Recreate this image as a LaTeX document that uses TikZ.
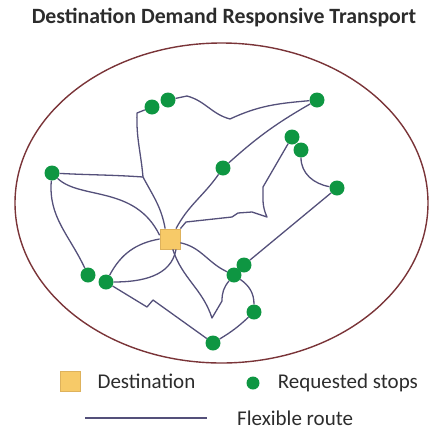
\documentclass[tikz,border=0pt]{standalone}
\usepackage{fontspec}
\setmainfont{Carlito}
\usepackage{tikz}
\usetikzlibrary{calc,positioning}
\definecolor{stopgreen}{RGB}{14,150,66}
\definecolor{routeblue}{RGB}{84,80,122}
\definecolor{rimred}{RGB}{122,52,56}
\definecolor{destyellow}{RGB}{247,202,104}
\definecolor{destedge}{RGB}{222,178,92}
\definecolor{textgrey}{RGB}{44,44,44}
\tikzset{
  stop/.style={circle, fill=stopgreen, inner sep=0pt, minimum size=15pt},
  dest/.style={rectangle, fill=destyellow, draw=destedge, line width=0.8pt, inner sep=0pt, minimum size=20pt},
  route/.style={draw=routeblue, line width=1.3pt, line join=round},
  rim/.style={draw=rimred, line width=1.4pt},
  label/.style={text=textgrey, inner sep=0pt, font=\fontsize{21}{24}\selectfont}
}

\begin{document}
\begin{tikzpicture}[x=1pt,y=-1pt]
					\useasboundingbox (0,0) rectangle (429,432);
					\node[text=textgrey, inner sep=0pt, font=\bfseries\fontsize{21.8}{26}\selectfont] (title) at (224,18) {Destination Demand Responsive Transport};
					\draw[rim] (221.5,203) ellipse [x radius=206.5pt, y radius=160pt];

					% destination and requested stops
					\node[dest] (dest) at (170,239) {};
					\node[stop] (s1) at (152,107) {};
					\node[stop] (s2) at (168,100) {};
					\node[stop] (s3) at (52,173) {};
					\node[stop] (s4) at (317,100) {};
					\node[stop] (s5) at (292,137) {};
					\node[stop] (s6) at (301,150) {};
					\node[stop] (s7) at (337,188) {};
					\node[stop] (s8) at (223,168) {};
					\node[stop] (s9) at (88,275) {};
					\node[stop] (s10) at (106,282) {};
					\node[stop] (s11) at (213,343) {};
					\node[stop] (s12) at (244,265) {};
					\node[stop] (s13) at (234,275) {};
					\node[stop] (s14) at (254,312) {};

					% bends of the routes
					\coordinate (fork) at (143,177);
					\coordinate (knee) at (137,113);
					\coordinate (dipA) at (187,96);
					\coordinate (dipB) at (230,119);
					\coordinate (zigA) at (147,307);
					\coordinate (zigB) at (153,300);
					\coordinate (vee) at (212,318);
					\coordinate (veeup) at (222,301);
					\coordinate (hookA) at (263,187);
					\coordinate (hookB) at (267,217);
					\coordinate (hookC) at (252,212);
					\coordinate (hookD) at (238,213);
					\coordinate (hookE) at (232,217);
					\coordinate (hookF) at (186,222);

					% routes on the left
					\draw[route] (dest.115) to[out=100,in=-62] (fork);
					\draw[route] (fork) to[out=95,in=-92] (knee) -- (s1);
					\draw[route] (s3) to[out=-3,in=176] (fork);
					\draw[route] (s3) .. controls (80,200) and (135,185) .. (dest.160);
					\draw[route] (s3) to[out=-95,in=115] (s9);
					\draw[route] (s10) to[out=62,in=190] (dest.west);
					\draw[route] (s10) to[out=0,in=-100] (dest.-60);
					\draw[route] (s10) -- (zigA) -- (zigB) -- (s11);

					% routes at the bottom
					\draw[route] (s11) to[bend right=6] (s14);
					\draw[route] (dest.-20) to[out=-12,in=155] (s13);
					\draw[route] (s13) to[out=-35,in=90] (s14);
					\draw[route] (dest.-75) to[out=-72,in=108] (vee) -- (veeup) to[out=90,in=-130] (s13);

					% routes on the right
					\draw[route] (s12) -- (s7);
					\draw[route] (s7) to[out=170,in=-90] (s6);
					\draw[route] (s5) -- (hookA) to[out=-90,in=115] (hookB) -- (hookC) -- (hookD) -- (hookE) -- (hookF) -- (dest.north east);
					\draw[route] (dest.60) to[out=62,in=-125] (s8);
					\draw[route] (s8) to[bend left=6] (s4);
					\draw[route] (s2) -- (dipA) to[out=-15,in=165] (dipB) to[out=25,in=185] (s4);

					% legend
					\node[dest] (legdest) at (70,381) {};
					\node[label, right=17pt of legdest] (legdesttext) {Destination};
					\node[stop, minimum size=13pt] (legstop) at (253,383) {};
					\node[label, right=18pt of legstop] (legstoptext) {Requested stops};
					\coordinate (legfrom) at (85,418);
					\coordinate (legto) at (207,418);
					\draw[route] (legfrom) -- (legto);
					\node[label, right=30pt of legto] (legroutetext) {Flexible route};
				\end{tikzpicture}
\end{document}
